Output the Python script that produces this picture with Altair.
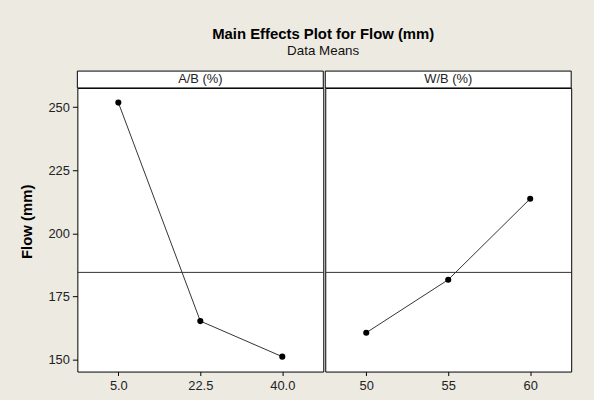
import altair as alt
import pandas as pd

# ---- data ----
factors = ["A/B (%)", "W/B (%)"]
ab_levels = [5.0, 22.5, 40.0]
ab_means = [251.8, 165.2, 151.1]
wb_levels = [50, 55, 60]
wb_means = [160.6, 181.6, 213.7]
grand_mean = 184.5
y_ticks = [150, 175, 200, 225, 250]
y_domain = [145.2, 257.6]
ab_domain = [-3.75, 48.75]
wb_domain = [47.5, 62.5]

FONT = "Liberation Sans"
BG = "#EDEAE2"
W, H, HDR = 248, 286, 17


def panel(levels, means, factor, xdomain, xfmt, show_y):
    df = pd.DataFrame({"level": levels, "mean": means})
    base = alt.Chart(df)
    yaxis = (
        alt.Axis(values=y_ticks, title="Flow (mm)", titleY=(H - HDR) / 2,
                 tickSize=5, labelPadding=3, titlePadding=14, domain=False, grid=False)
        if show_y else None
    )
    yscale = alt.Scale(domain=y_domain, nice=False, zero=False)
    y = alt.Y("mean:Q", scale=yscale, axis=yaxis)
    x = alt.X("level:Q", scale=alt.Scale(domain=xdomain, nice=False, zero=False),
              axis=alt.Axis(values=levels, format=xfmt, title=None, tickSize=4,
                            labelPadding=4, domain=False, grid=False))
    line = base.mark_line(color="#333333", strokeWidth=1).encode(x=x, y=y)
    pts = base.mark_circle(color="#000000", size=38, opacity=1).encode(x=x, y=y)
    ref = alt.Chart(pd.DataFrame({"mean": [grand_mean]})).mark_rule(
        color="#333333", strokeWidth=1).encode(y=y)
    hdr_df = pd.DataFrame({"f": [factor]})
    hdr_box = alt.Chart(hdr_df).mark_rect(fill="white", stroke="#000000", strokeWidth=1).encode(
        x=alt.value(0), x2=alt.value(W), y=alt.value(-HDR), y2=alt.value(0))
    hdr_txt = alt.Chart(hdr_df).mark_text(font=FONT, fontSize=13, color="#222222",
                                          baseline="middle", align="center").encode(
        text="f:N", x=alt.value(W / 2), y=alt.value(-HDR / 2))
    return alt.layer(line, pts, ref, hdr_box, hdr_txt).properties(width=W, height=H)


left = panel(ab_levels, ab_means, factors[0], ab_domain, ".1f", True)
right = panel(wb_levels, wb_means, factors[1], wb_domain, "d", False)

chart = alt.hconcat(left, right, spacing=0).resolve_scale(x="independent").properties(
    title=alt.TitleParams(text="Main Effects Plot for Flow (mm)", subtitle="Data Means",
                          anchor="middle", offset=13, dx=28)
).configure(background=BG, padding={"left": 18, "right": 22, "top": 25, "bottom": 5}).configure_view(
    fill="white", stroke="#000000", strokeWidth=1
).configure_axis(
    labelFont=FONT, labelFontSize=13, labelColor="#222222", tickColor="#000000",
    titleFont=FONT, titleFontSize=15, titleFontWeight="bold", titleColor="#000000"
).configure_title(
    font=FONT, fontSize=15, fontWeight="bold", color="#000000",
    subtitleFont=FONT, subtitleFontSize=13.5, subtitleColor="#111111", subtitlePadding=2
)

chart.save("out.html", embed_options={"renderer": "svg", "actions": False})
